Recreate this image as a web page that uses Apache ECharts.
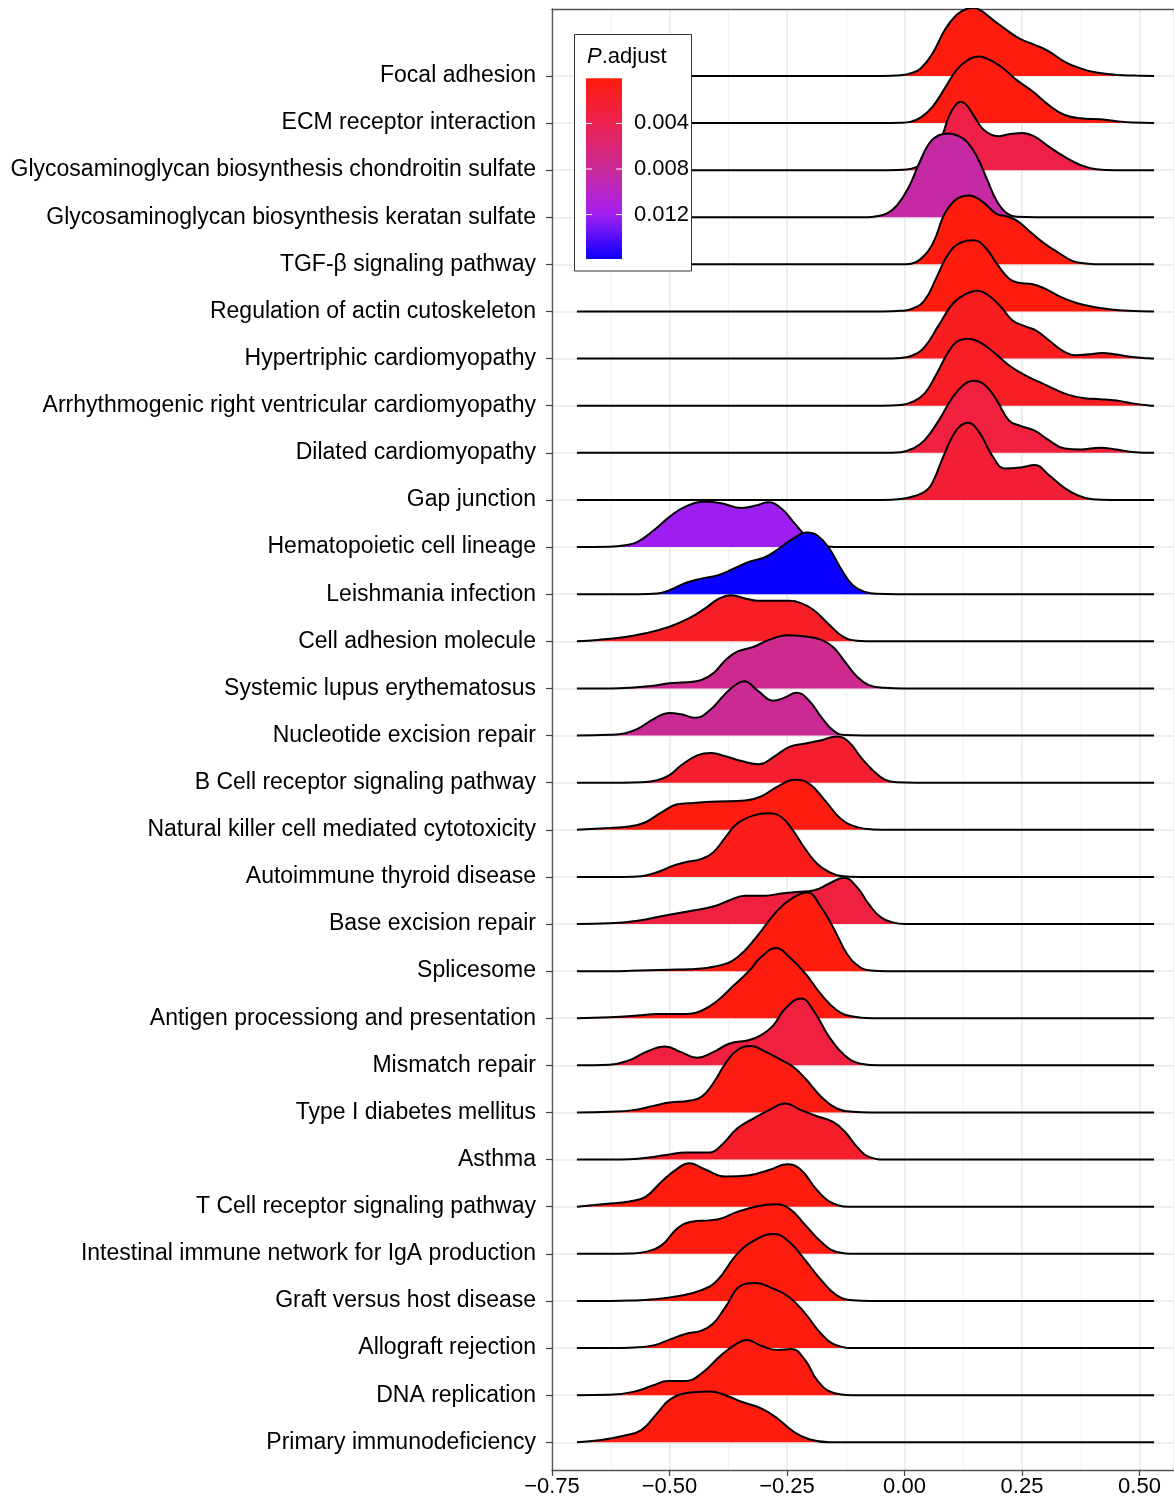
<!DOCTYPE html>
<html>
<head>
<meta charset="utf-8">
<script src="https://cdn.jsdelivr.net/npm/echarts@6/dist/echarts.min.js"></script>
<style>
  html, body { margin: 0; padding: 0; background: #fff; }
  #chart { width: 1174px; height: 1498px; }
</style>
</head>
<body>
<div id="chart"></div>
<script>
// pathways, top to bottom
const categories = [
  'Focal adhesion', 'ECM receptor interaction', 'Glycosaminoglycan biosynthesis chondroitin sulfate',
  'Glycosaminoglycan biosynthesis keratan sulfate', 'TGF-β signaling pathway', 'Regulation of actin cutoskeleton',
  'Hypertriphic cardiomyopathy', 'Arrhythmogenic right ventricular cardiomyopathy', 'Dilated cardiomyopathy',
  'Gap junction', 'Hematopoietic cell lineage', 'Leishmania infection', 'Cell adhesion molecule',
  'Systemic lupus erythematosus', 'Nucleotide excision repair', 'B Cell receptor signaling pathway',
  'Natural killer cell mediated cytotoxicity', 'Autoimmune thyroid disease', 'Base excision repair',
  'Splicesome', 'Antigen processiong and presentation', 'Mismatch repair', 'Type I diabetes mellitus',
  'Asthma', 'T Cell receptor signaling pathway', 'Intestinal immune network for IgA production',
  'Graft versus host disease', 'Allograft rejection', 'DNA replication', 'Primary immunodeficiency'
]

const pAdjust = [
  0.0002, 0.0003, 0.0035, 0.0085, 0.0002, 0.00004, 0.0012, 0.0014, 0.0030, 0.0025,
  0.0121, 0.0159, 0.0015, 0.0075, 0.0078, 0.0020, 0.0003, 0.0010, 0.0030, 0.0002,
  0.0003, 0.0030, 0.0004, 0.0018, 0.0002, 0.0003, 0.0002, 0.0002, 0.0003, 0.0002
]

const xTicks = [-0.75, -0.5, -0.25, 0, 0.25, 0.5]
const pTicks = [0.004, 0.008, 0.012]

// range of the density estimate (baseline ends)
const ridgeStart = -0.697
const ridgeEnd = 0.531

// density outlines: [x, height in rows]
const focalAdhesion = [[-0.008,0.014],[0.014,0.057],[0.035,0.163],[0.060,0.48],[0.086,0.98],[0.111,1.30],[0.132,1.42],[0.147,1.44],[0.162,1.39],[0.188,1.19],[0.222,0.94],[0.247,0.78],[0.277,0.66],[0.307,0.52],[0.341,0.30],[0.374,0.16],[0.408,0.07],[0.451,0.02],[0.493,0.007]]
const ecmReceptor = [[-0.008,0.005],[0.014,0.03],[0.035,0.12],[0.060,0.35],[0.086,0.74],[0.111,1.13],[0.137,1.35],[0.158,1.41],[0.179,1.35],[0.205,1.20],[0.239,0.91],[0.273,0.67],[0.307,0.38],[0.341,0.17],[0.374,0.10],[0.417,0.08],[0.451,0.04],[0.485,0.01]]
const chondroitin = [[0.005,0.014],[0.026,0.07],[0.048,0.21],[0.065,0.42],[0.082,0.78],[0.094,1.13],[0.107,1.36],[0.120,1.45],[0.132,1.38],[0.149,1.13],[0.166,0.88],[0.183,0.76],[0.200,0.72],[0.222,0.76],[0.251,0.79],[0.277,0.71],[0.307,0.50],[0.341,0.28],[0.374,0.11],[0.408,0.02]]
const keratan = [[-0.080,0.0],[-0.059,0.02],[-0.037,0.08],[-0.016,0.25],[0.009,0.64],[0.031,1.14],[0.052,1.56],[0.073,1.74],[0.094,1.78],[0.111,1.74],[0.132,1.61],[0.154,1.29],[0.175,0.82],[0.196,0.35],[0.217,0.09],[0.239,0.01]]
const tgfBeta = [[-0.008,0.0],[0.014,0.015],[0.035,0.12],[0.060,0.44],[0.094,1.21],[0.137,1.46],[0.162,1.36],[0.196,1.07],[0.217,1.02],[0.239,0.93],[0.264,0.72],[0.298,0.44],[0.332,0.22],[0.358,0.07],[0.391,0.015],[0.417,0.0]]
const actinRegulation = [[-0.008,0.014],[0.018,0.064],[0.043,0.24],[0.069,0.74],[0.094,1.23],[0.120,1.46],[0.147,1.51],[0.171,1.37],[0.196,1.02],[0.222,0.70],[0.243,0.61],[0.273,0.58],[0.298,0.49],[0.332,0.31],[0.366,0.18],[0.400,0.10],[0.434,0.05],[0.476,0.014]]
const hypertrophic = [[-0.008,0.014],[0.018,0.071],[0.043,0.25],[0.073,0.71],[0.103,1.17],[0.132,1.38],[0.155,1.44],[0.179,1.34],[0.205,1.10],[0.230,0.81],[0.256,0.69],[0.281,0.59],[0.307,0.39],[0.341,0.14],[0.366,0.07],[0.391,0.09],[0.421,0.12],[0.451,0.085],[0.485,0.035],[0.519,0.007]]
const arrhythmogenic = [[-0.008,0.014],[0.018,0.085],[0.043,0.26],[0.069,0.69],[0.094,1.15],[0.115,1.38],[0.135,1.42],[0.158,1.36],[0.188,1.15],[0.222,0.86],[0.256,0.65],[0.290,0.49],[0.324,0.33],[0.349,0.23],[0.383,0.16],[0.417,0.14],[0.451,0.11],[0.485,0.05],[0.519,0.007]]
const dilated = [[-0.008,0.014],[0.018,0.092],[0.043,0.27],[0.073,0.69],[0.103,1.19],[0.128,1.46],[0.147,1.53],[0.171,1.44],[0.196,1.12],[0.222,0.69],[0.247,0.57],[0.277,0.47],[0.307,0.27],[0.341,0.09],[0.374,0.07],[0.417,0.11],[0.451,0.07],[0.485,0.02]]
const gapJunction = [[-0.008,0.02],[0.022,0.085],[0.048,0.21],[0.062,0.42],[0.086,1.0],[0.111,1.49],[0.135,1.64],[0.158,1.45],[0.188,0.92],[0.213,0.67],[0.247,0.69],[0.277,0.74],[0.307,0.53],[0.341,0.25],[0.366,0.11],[0.400,0.015]]
const hematopoietic = [[-0.628,0.007],[-0.594,0.04],[-0.568,0.11],[-0.534,0.35],[-0.500,0.64],[-0.466,0.86],[-0.424,0.96],[-0.390,0.93],[-0.347,0.83],[-0.313,0.89],[-0.290,0.95],[-0.262,0.82],[-0.237,0.54],[-0.211,0.25],[-0.190,0.09],[-0.169,0.02]]
const leishmania = [[-0.526,0.014],[-0.500,0.085],[-0.466,0.24],[-0.432,0.33],[-0.398,0.40],[-0.364,0.54],[-0.330,0.69],[-0.296,0.79],[-0.267,0.97],[-0.237,1.18],[-0.207,1.31],[-0.186,1.25],[-0.160,0.97],[-0.135,0.54],[-0.110,0.19],[-0.084,0.05],[-0.059,0.007]]
const cellAdhesion = [[-0.653,0.03],[-0.602,0.08],[-0.551,0.17],[-0.500,0.31],[-0.458,0.49],[-0.424,0.70],[-0.394,0.91],[-0.369,0.98],[-0.339,0.91],[-0.313,0.86],[-0.279,0.86],[-0.245,0.86],[-0.220,0.81],[-0.194,0.67],[-0.160,0.35],[-0.131,0.10],[-0.101,0.014]]
const lupus = [[-0.585,0.014],[-0.534,0.057],[-0.500,0.11],[-0.466,0.13],[-0.432,0.18],[-0.407,0.32],[-0.381,0.60],[-0.356,0.78],[-0.322,0.88],[-0.288,1.03],[-0.250,1.13],[-0.211,1.10],[-0.177,1.03],[-0.152,0.88],[-0.127,0.57],[-0.101,0.25],[-0.076,0.07],[-0.042,0.014]]
const nucleotideRepair = [[-0.628,0.015],[-0.594,0.05],[-0.568,0.14],[-0.534,0.35],[-0.500,0.48],[-0.475,0.45],[-0.445,0.38],[-0.415,0.53],[-0.381,0.89],[-0.356,1.10],[-0.341,1.15],[-0.313,0.96],[-0.279,0.74],[-0.254,0.81],[-0.230,0.91],[-0.203,0.74],[-0.177,0.39],[-0.152,0.11],[-0.127,0.01]]
const bCellReceptor = [[-0.560,0.007],[-0.526,0.05],[-0.500,0.16],[-0.475,0.37],[-0.441,0.58],[-0.411,0.63],[-0.381,0.56],[-0.347,0.46],[-0.309,0.39],[-0.279,0.54],[-0.245,0.76],[-0.211,0.83],[-0.177,0.90],[-0.144,0.98],[-0.118,0.86],[-0.093,0.54],[-0.067,0.26],[-0.042,0.064],[-0.016,0.007]]
const nkCytotoxicity = [[-0.636,0.035],[-0.585,0.07],[-0.551,0.16],[-0.517,0.37],[-0.483,0.54],[-0.449,0.57],[-0.398,0.60],[-0.339,0.62],[-0.305,0.71],[-0.271,0.91],[-0.233,1.06],[-0.203,0.98],[-0.169,0.62],[-0.135,0.23],[-0.101,0.057],[-0.067,0.007]]
const autoimmuneThyroid = [[-0.560,0.014],[-0.526,0.10],[-0.492,0.24],[-0.466,0.31],[-0.432,0.38],[-0.407,0.52],[-0.381,0.84],[-0.356,1.13],[-0.322,1.30],[-0.290,1.35],[-0.262,1.27],[-0.237,0.98],[-0.211,0.59],[-0.186,0.28],[-0.160,0.10],[-0.135,0.02]]
const baseExcision = [[-0.628,0.014],[-0.568,0.07],[-0.509,0.18],[-0.458,0.27],[-0.407,0.37],[-0.373,0.50],[-0.339,0.60],[-0.296,0.60],[-0.262,0.65],[-0.228,0.68],[-0.194,0.71],[-0.160,0.86],[-0.129,0.98],[-0.101,0.78],[-0.076,0.42],[-0.050,0.14],[-0.025,0.035],[0.001,0.0]]
const splicesome = [[-0.585,0.006],[-0.500,0.03],[-0.458,0.04],[-0.398,0.11],[-0.356,0.29],[-0.313,0.75],[-0.271,1.28],[-0.237,1.56],[-0.207,1.67],[-0.177,1.35],[-0.152,0.93],[-0.122,0.36],[-0.101,0.13],[-0.076,0.02]]
const antigenPresentation = [[-0.628,0.02],[-0.568,0.057],[-0.526,0.092],[-0.466,0.092],[-0.432,0.16],[-0.398,0.37],[-0.364,0.69],[-0.330,1.01],[-0.305,1.30],[-0.273,1.49],[-0.245,1.30],[-0.211,0.95],[-0.177,0.50],[-0.144,0.17],[-0.110,0.035]]
const mismatchRepair = [[-0.628,0.014],[-0.585,0.11],[-0.551,0.28],[-0.509,0.40],[-0.475,0.28],[-0.441,0.16],[-0.407,0.28],[-0.373,0.46],[-0.330,0.54],[-0.305,0.64],[-0.279,0.85],[-0.254,1.20],[-0.220,1.42],[-0.194,1.17],[-0.160,0.60],[-0.127,0.21],[-0.093,0.035]]
const typeIDiabetes = [[-0.628,0.014],[-0.577,0.05],[-0.534,0.14],[-0.500,0.21],[-0.458,0.25],[-0.432,0.33],[-0.407,0.62],[-0.381,1.04],[-0.356,1.32],[-0.326,1.41],[-0.296,1.29],[-0.262,1.11],[-0.237,0.97],[-0.211,0.72],[-0.177,0.33],[-0.144,0.085],[-0.110,0.014]]
const asthma = [[-0.585,0.007],[-0.534,0.057],[-0.500,0.11],[-0.466,0.15],[-0.415,0.15],[-0.390,0.30],[-0.356,0.66],[-0.322,0.87],[-0.288,1.05],[-0.254,1.19],[-0.220,1.05],[-0.186,0.92],[-0.152,0.80],[-0.127,0.59],[-0.101,0.27],[-0.076,0.057]]
const tCellReceptor = [[-0.636,0.057],[-0.585,0.11],[-0.551,0.21],[-0.517,0.53],[-0.483,0.81],[-0.458,0.92],[-0.424,0.79],[-0.381,0.64],[-0.330,0.67],[-0.288,0.78],[-0.250,0.90],[-0.220,0.78],[-0.186,0.35],[-0.152,0.07]]
const intestinalIgA = [[-0.585,0.007],[-0.551,0.042],[-0.517,0.18],[-0.483,0.54],[-0.453,0.68],[-0.415,0.71],[-0.390,0.75],[-0.356,0.89],[-0.313,1.01],[-0.275,1.05],[-0.245,0.96],[-0.211,0.61],[-0.177,0.25],[-0.144,0.04]]
const graftVsHost = [[-0.585,0.007],[-0.534,0.035],[-0.483,0.10],[-0.432,0.23],[-0.398,0.44],[-0.356,1.00],[-0.313,1.32],[-0.278,1.42],[-0.245,1.25],[-0.211,0.86],[-0.177,0.44],[-0.144,0.12],[-0.110,0.014]]
const allograft = [[-0.585,0.007],[-0.534,0.057],[-0.500,0.18],[-0.466,0.30],[-0.432,0.37],[-0.407,0.52],[-0.381,0.87],[-0.347,1.33],[-0.318,1.38],[-0.279,1.26],[-0.245,1.08],[-0.211,0.73],[-0.177,0.30],[-0.144,0.057]]
const dnaReplication = [[-0.628,0.007],[-0.577,0.07],[-0.534,0.21],[-0.504,0.30],[-0.466,0.30],[-0.432,0.46],[-0.390,0.85],[-0.356,1.10],[-0.335,1.17],[-0.305,1.05],[-0.271,0.96],[-0.241,0.98],[-0.211,0.74],[-0.186,0.32],[-0.152,0.05]]
const primaryImmuno = [[-0.645,0.05],[-0.602,0.13],[-0.560,0.26],[-0.526,0.62],[-0.500,0.90],[-0.466,1.04],[-0.415,1.08],[-0.381,1.00],[-0.347,0.86],[-0.305,0.72],[-0.271,0.51],[-0.237,0.23],[-0.203,0.064],[-0.160,0.0]]

const ridges = [
  focalAdhesion, ecmReceptor, chondroitin, keratan, tgfBeta, actinRegulation, hypertrophic,
  arrhythmogenic, dilated, gapJunction, hematopoietic, leishmania, cellAdhesion, lupus,
  nucleotideRepair, bCellReceptor, nkCytotoxicity, autoimmuneThyroid, baseExcision, splicesome,
  antigenPresentation, mismatchRepair, typeIDiabetes, asthma, tCellReceptor, intestinalIgA,
  graftVsHost, allograft, dnaReplication, primaryImmuno
]

const FONT = "'Liberation Sans', Arial, Helvetica, sans-serif"
const fillStops = ['#FF1C0C', '#EB2150', '#CA2A98', '#A51FF0', '#0A00FF']
const pMin = Math.min.apply(null, pAdjust)
const pMax = Math.max.apply(null, pAdjust)

function pColor(p) {
  return echarts.color.lerp((p - pMin) / (pMax - pMin), fillStops)
}

let nRow = categories.length
let rowMin = 0.412
let rowMax = nRow + 1.42
let border = {show: true, onZero: false, lineStyle: {color: '#555', width: 1.3}}

// one line+area series per pathway, drawn top to bottom so lower ridges overlap
let series = ridges.map(function (pts, i) {
  let row = nRow - i
  let first = pts[0][0]
  let last = pts[pts.length - 1][0]
  // flat baseline, with a short lead-in on each side so the smoothing stays local
  let data = [[ridgeStart, row]]
  if (first - 0.04 > ridgeStart + 0.03) data.push([first - 0.04, row])
  pts.forEach(function (d) {
    data.push([d[0], row + d[1]])
  })
  if (last + 0.04 < ridgeEnd - 0.03) data.push([last + 0.04, row])
  data.push([ridgeEnd, row])
  return {
    name: categories[i],
    type: 'line',
    xAxisIndex: 0,
    yAxisIndex: 0,
    data: data,
    smooth: 0.45,
    symbol: 'none',
    z: 2 + i,
    silent: true,
    lineStyle: {color: '#000', width: 2},
    areaStyle: {color: pColor(pAdjust[i]), opacity: 1, origin: row}
  }
})

// colour bar legend
let barX = 586, barY = 78.3, barW = 36, barH = 180.7
let gradStops = []
for (let k = 0; k <= 20; k++) {
  gradStops.push({offset: k / 20, color: pColor(pMin + (pMax - pMin) * k / 20)})
}
let legend = [
  {type: 'rect', z: 100, shape: {x: 574.5, y: 34.5, width: 117, height: 236.5},
    style: {fill: '#fff', stroke: '#333', lineWidth: 1}},
  {type: 'text', z: 101, x: 587, y: 57,
    style: {text: '{i|P}.adjust', fill: '#000', fontSize: 22, fontFamily: FONT, verticalAlign: 'middle',
      rich: {i: {fontStyle: 'italic', fontSize: 22, fontFamily: FONT, fill: '#000'}}}},
  {type: 'rect', z: 101, shape: {x: barX, y: barY, width: barW, height: barH},
    style: {fill: {type: 'linear', x: 0, y: 0, x2: 0, y2: 1, colorStops: gradStops}}}
]
pTicks.forEach(function (v) {
  let y = barY + (v - pMin) / (pMax - pMin) * barH
  legend.push({type: 'line', z: 102, shape: {x1: barX, y1: y, x2: barX + 6, y2: y},
    style: {stroke: '#fff', lineWidth: 1}})
  legend.push({type: 'line', z: 102, shape: {x1: barX + barW - 6, y1: y, x2: barX + barW, y2: y},
    style: {stroke: '#fff', lineWidth: 1}})
  legend.push({type: 'text', z: 102, x: 634, y: y,
    style: {text: v.toFixed(3), fill: '#000', fontSize: 22, fontFamily: FONT, verticalAlign: 'middle'}})
})

// the panel runs past the right edge of the picture
let gridW = 1174 - 552

let option = {
  backgroundColor: '#fff',
  animation: false,
  grid: [
    {left: 552, top: 9, width: gridW, height: 1461},
    {left: 552, top: 75.9, width: gridW, height: 1366.4}
  ],
  xAxis: [
    {
      type: 'value', gridIndex: 0, min: -0.75, max: -0.75 + gridW / 470, interval: 0.25,
      axisLine: border,
      axisTick: {show: true, length: 6, lineStyle: {color: '#444', width: 1.2}},
      axisLabel: {
        show: true, showMaxLabel: false, margin: 6, color: '#000', fontSize: 22, fontFamily: FONT,
        formatter: function (v) {
          let hit = xTicks.find(function (t) { return Math.abs(t - v) < 1e-6 })
          return hit === undefined ? '' : hit.toFixed(2).replace('-', '\u2212')
        }
      },
      splitLine: {show: true, lineStyle: {color: '#E8E8E8', width: 1.5}},
      minorTick: {show: false, splitNumber: 2},
      minorSplitLine: {show: true, lineStyle: {color: '#F2F2F2', width: 1.2}}
    },
    {type: 'value', gridIndex: 1, show: false},
    // top edge of the panel
    {type: 'value', gridIndex: 0, position: 'top', min: -0.75, max: -0.75 + gridW / 470,
      axisLine: border, axisTick: {show: false}, axisLabel: {show: false}, splitLine: {show: false}}
  ],
  yAxis: [
    {type: 'value', gridIndex: 0, position: 'left', min: rowMin, max: rowMax, axisLine: border,
      axisTick: {show: false}, axisLabel: {show: false}, splitLine: {show: false}},
    {
      type: 'category', gridIndex: 1, boundaryGap: false,
      data: categories.slice().reverse(),
      axisLine: {show: false},
      axisTick: {show: true, length: 6, lineStyle: {color: '#444', width: 1.2}},
      axisLabel: {color: '#000', fontSize: 23, fontFamily: FONT, margin: 16},
      splitLine: {show: true, lineStyle: {color: '#E8E8E8', width: 1.5}}
    }
  ],
  graphic: legend,
  series: series
}

let myChart = echarts.init(document.getElementById('chart'))
myChart.setOption(option)
</script>
</body>
</html>
